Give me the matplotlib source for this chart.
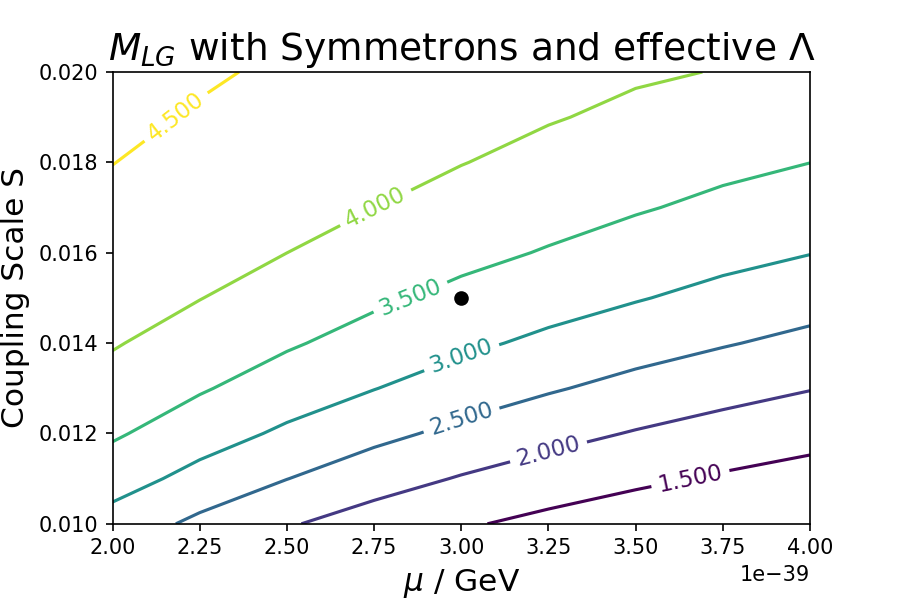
import numpy as np
import matplotlib
matplotlib.use('Agg')
import matplotlib.pyplot as plt

# grid: mu in units of 1e-39 GeV, S coupling scale
mu = [2.0, 2.25, 2.5, 2.75, 3.0, 3.25, 3.5, 3.75, 4.0]
S = [0.010, 0.011, 0.012, 0.013, 0.014, 0.015, 0.016, 0.017, 0.018, 0.019, 0.020]

# M_LG values, one row per S value, one column per mu value
M_LG = [
    [2.798, 2.388, 2.045, 1.775, 1.555, 1.372, 1.216, 1.082, 0.965],
    [3.218, 2.842, 2.508, 2.209, 1.966, 1.764, 1.593, 1.445, 1.316],
    [3.564, 3.221, 2.918, 2.630, 2.380, 2.158, 1.969, 1.808, 1.668],
    [3.822, 3.546, 3.257, 3.013, 2.761, 2.548, 2.349, 2.173, 2.019],
    [4.036, 3.784, 3.555, 3.315, 3.100, 2.898, 2.703, 2.535, 2.374],
    [4.154, 4.011, 3.778, 3.582, 3.387, 3.195, 3.031, 2.860, 2.703],
    [4.272, 4.121, 4.001, 3.794, 3.622, 3.469, 3.295, 3.144, 3.013],
    [4.389, 4.232, 4.106, 4.003, 3.824, 3.672, 3.541, 3.398, 3.259],
    [4.507, 4.343, 4.211, 4.103, 4.013, 3.865, 3.728, 3.608, 3.503],
    [4.625, 4.454, 4.317, 4.204, 4.109, 4.029, 3.914, 3.789, 3.679],
    [4.742, 4.564, 4.422, 4.305, 4.206, 4.122, 4.049, 3.985, 3.854],
]

levels = [1.5, 2.0, 2.5, 3.0, 3.5, 4.0, 4.5]

# marked point
mu_point = 3.0
S_point = 0.015

X, Y = np.meshgrid(np.array(mu) * 1e-39, S)
Z = np.array(M_LG)

fig, ax = plt.subplots(figsize=(6, 4), dpi=150)
fig.subplots_adjust(bottom=0.127)

cs = ax.contour(X, Y, Z, levels=levels, cmap='viridis')
ax.clabel(cs, inline=True, fmt='%1.3f', fontsize=11, inline_spacing=7)
ax.plot(mu_point * 1e-39, S_point, 'ko')

ax.set_title(r'$M_{LG}$ with Symmetrons and effective $\Lambda$', fontsize=18)
ax.set_xlabel(r'$\mu$ / GeV', fontsize=15)
ax.set_ylabel('Coupling Scale S', fontsize=15)

fig.savefig('out.png', dpi=150)
